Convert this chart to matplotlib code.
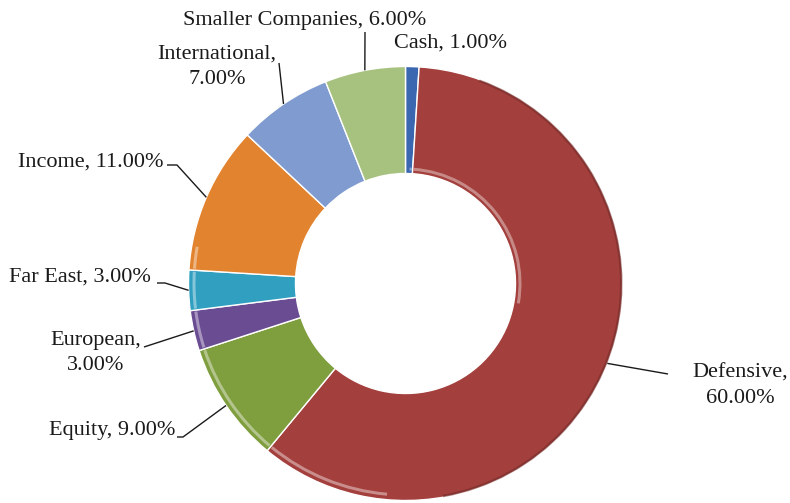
import matplotlib
matplotlib.use("Agg")
import matplotlib.pyplot as plt
import numpy as np
from matplotlib.patches import Wedge

categories = ["Cash", "Defensive", "Equity", "European", "Far East",
              "Income", "International", "Smaller Companies"]
values = [1.00, 60.00, 9.00, 3.00, 3.00, 11.00, 7.00, 6.00]
colors = ["#3A67B0", "#A33F3C", "#7F9E3E", "#6A4C93", "#31A0C0",
          "#E2832F", "#7F9BCF", "#A7C27F"]

W, H = 790, 503
fig = plt.figure(figsize=(W / 100, H / 100), dpi=100)
ax = fig.add_axes([0, 0, 1, 1])


def P(x, y):
    """pixel (top-left origin) -> data coords"""
    return x, H - y


CX, CY = P(405.5, 283.5)
R = 217
RW = 107

wedges, _ = ax.pie(values, colors=colors, startangle=90, counterclock=False,
                   radius=R, center=(CX, CY),
                   wedgeprops=dict(width=RW, edgecolor="white", linewidth=1.0))


def clip(t1, t2, a1, a2):
    out = []
    for off in (-360, 0, 360):
        lo, hi = max(t1, a1 + off), min(t2, a2 + off)
        if hi - lo > 0.5:
            out.append((lo, hi))
    return out


# bevel effects: light outer rim lower-left, light inner rim upper-right,
# dark shadow on outer right
for w, c in zip(wedges, colors):
    t1, t2 = w.theta1 + 0.4, w.theta2 - 0.4
    rgb = np.array(matplotlib.colors.to_rgb(c))
    light = 1 - (1 - rgb) * 0.45
    dark = rgb * 0.7
    for lo, hi in clip(t1, t2, 170, 265):
        ax.add_patch(Wedge((CX, CY), R - 4, lo, hi, width=3,
                           facecolor=light, edgecolor="none", alpha=0.75))
    for lo, hi in clip(t1, t2, -10, 88):
        ax.add_patch(Wedge((CX, CY), R - RW + 6, lo, hi, width=3,
                           facecolor=light, edgecolor="none", alpha=0.7))
    for lo, hi in clip(t1, t2, -80, 70):
        ax.add_patch(Wedge((CX, CY), R, lo, hi, width=2.5,
                           facecolor=dark, edgecolor="none", alpha=0.6))

label_text = {
    "Cash": "Cash, 1.00%",
    "Defensive": "Defensive,\n60.00%",
    "Equity": "Equity, 9.00%",
    "European": "European,\n3.00%",
    "Far East": "Far East, 3.00%",
    "Income": "Income, 11.00%",
    "International": "International,\n7.00%",
    "Smaller Companies": "Smaller Companies, 6.00%",
}
# label centres (pixels) and leader path near text (pixels)
label_pos = {
    "Cash": (451, 43),
    "Defensive": (740, 386),
    "Equity": (112, 430),
    "European": (96, 353),
    "Far East": (80, 277),
    "Income": (91, 162),
    "International": (217, 67),
    "Smaller Companies": (305, 20),
}
leader = {
    "Cash": None,
    "Defensive": [(668, 374)],
    "Equity": [(183, 437), (177, 437)],
    "European": [(144, 347)],
    "Far East": [(165, 283), (157, 283)],
    "Income": [(177, 165), (167, 165)],
    "International": [(279, 63)],
    "Smaller Companies": [(365, 32)],
}

for w, cat in zip(wedges, categories):
    mid = np.deg2rad((w.theta1 + w.theta2) / 2)
    ex, ey = CX + R * np.cos(mid), CY + R * np.sin(mid)
    tx, ty = P(*label_pos[cat])
    ax.text(tx, ty, label_text[cat], ha="center", va="center",
            multialignment="center", fontsize=16,
            family=["Liberation Serif", "DejaVu Serif"], color="#1a1a1a",
            linespacing=1.45)
    if leader[cat]:
        pts = [(ex, ey)] + [P(*p) for p in leader[cat]]
        xs, ys = zip(*pts)
        ax.plot(xs, ys, color="#1a1a1a", lw=1.0, solid_capstyle="butt")

ax.set_xlim(0, W)
ax.set_ylim(0, H)
ax.set_aspect("equal")
ax.axis("off")
fig.savefig("out.png", dpi=100, facecolor="white")
